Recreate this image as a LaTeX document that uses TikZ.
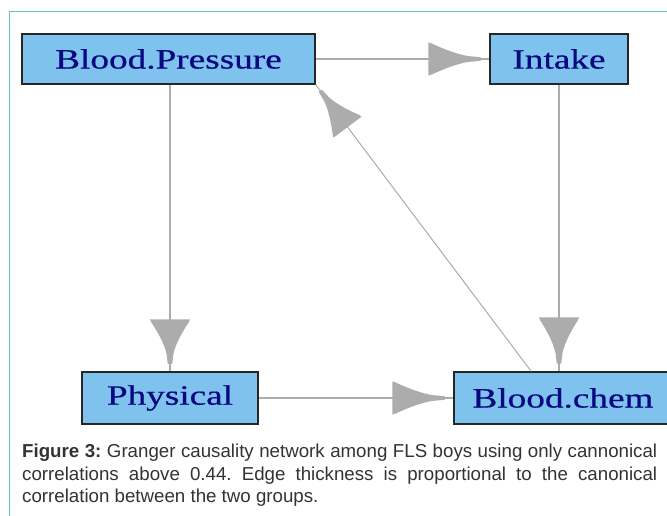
\documentclass[tikz,border=0pt]{standalone}
\usepackage{fontspec}
\usepackage{graphicx}
\setmainfont{Liberation Serif}
\newfontfamily\nodefont[FakeBold=0.5]{Liberation Serif}
\newfontfamily\capfont[HyphenChar=None]{Liberation Sans}
\usetikzlibrary{decorations.markings}
\definecolor{nodefill}{RGB}{128,194,238}
\definecolor{nodetext}{RGB}{8,8,128}
\definecolor{edgegray}{RGB}{172,172,172}
\definecolor{framecol}{RGB}{92,200,176}
\definecolor{captext}{RGB}{51,51,51}
\tikzset{
  gnode/.style={draw=black!85, line width=1.4pt, fill=nodefill, rectangle, inner sep=0pt,
    text=nodetext, font=\nodefont\fontsize{28}{30}\selectfont},
  gedge/.style={draw=edgegray, line width=1.6pt},
  ahead/.style 2 args={postaction={decorate,decoration={markings,
    mark=at position 0.9999 with {\fill[edgegray, xscale=#1, yscale=#2]
      (-1,-1) -- (-0.95,-0.95) .. controls (-0.72,-0.55) and (-0.5,-0.26) .. (-0.33,-0.17)
      -- (-0.14,-0.11) -- (-0.14,0.11) -- (-0.33,0.17)
      .. controls (-0.5,0.26) and (-0.72,0.55) .. (-0.95,0.95) -- (-1,1) -- cycle;}}}}
}
\newcommand{\nt}[1]{\scalebox{1.33}[1]{#1}}
\begin{document}
\begin{tikzpicture}[x=1pt,y=-1pt]
\useasboundingbox (0,0) rectangle (667,515);
\fill[white] (0,0) rectangle (667,515);
% frame
\draw[framecol, line width=1.2pt] (9.3,520) -- (9.3,11.8) -- (672,11.8);
% nodes
\node[gnode, minimum width=293pt, minimum height=50pt] (bp) at (168.5,59) {\nt{Blood.Pressure}};
\node[gnode, minimum width=138pt, minimum height=50pt] (in) at (559,59) {\nt{Intake}};
\node[gnode, minimum width=176pt, minimum height=52pt] (ph) at (170,398) {\nt{Physical}};
\node[gnode, minimum width=218pt, minimum height=52pt] (bc) at (563,398) {\nt{Blood.chem}};
% edges
\draw[gedge, ahead={61}{16.5}] (bp) -- (in);
\draw[gedge, ahead={61}{16.5}] (ph) -- (bc);
\draw[gedge, ahead={52}{20}] (bp.south -| ph.north) -- (ph.north);
\draw[gedge, ahead={54}{20}] (in.south) -- (in.south |- bc.north);
\draw[gedge, line width=1pt, ahead={53}{17.5}] (bc.140) -- (bp.south east);
% caption
\node[anchor=north west, inner sep=0pt, text width=635pt, align=justify, text=captext,
  font=\capfont\fontsize{18.7}{22.5}\selectfont] (cap) at (22,444)
  {\frenchspacing\textbf{Figure 3:} Granger causality network among FLS boys using only cannonical correlations above 0.44. Edge thickness is proportional to the canonical correlation between the two groups.};
\end{tikzpicture}
\end{document}
